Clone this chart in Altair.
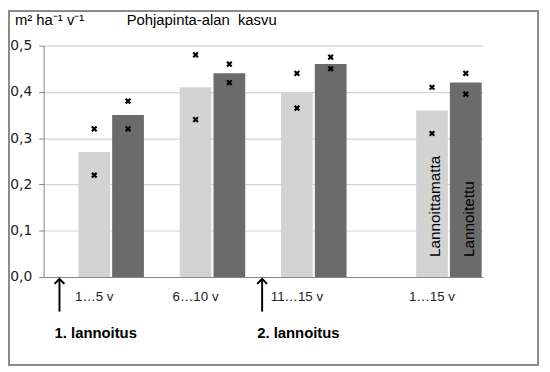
import altair as alt
import pandas as pd

# ---- data ----
groups = ["1…5 v", "6…10 v", "11…15 v", "1…15 v"]
group_pos = [2, 5, 8, 12]
series = ["Lannoittamatta", "Lannoitettu"]
colors = ["#d3d3d3", "#6b6b6b"]
unfert = [0.27, 0.41, 0.40, 0.36]
fert = [0.35, 0.44, 0.46, 0.42]
unfert_hi = [0.32, 0.48, 0.44, 0.41]
unfert_lo = [0.22, 0.34, 0.365, 0.31]
fert_hi = [0.38, 0.46, 0.475, 0.44]
fert_lo = [0.32, 0.42, 0.45, 0.395]
arrow_pos = [0.47, 6.47]
arrow_labels = ["1. lannoitus", "2. lannoitus"]
y_ticks = [0.0, 0.1, 0.2, 0.3, 0.4, 0.5]

half = 0.47
offsets = [-0.5, 0.5]
vals = [unfert, fert]
his = [unfert_hi, fert_hi]
los = [unfert_lo, fert_lo]

bar_rows, mark_rows = [], []
for si, s in enumerate(series):
    for gi, g in enumerate(groups):
        c = group_pos[gi] + offsets[si]
        bar_rows.append({"group": g, "series": s, "xc": c, "x1": c - half,
                         "x2": c + half, "value": vals[si][gi], "base": 0.0})
        mark_rows.append({"series": s, "xc": c, "value": his[si][gi]})
        mark_rows.append({"series": s, "xc": c, "value": los[si][gi]})
bars_df = pd.DataFrame(bar_rows)
marks_df = pd.DataFrame(mark_rows)
cat_df = pd.DataFrame({"label": groups, "xc": [p - 0.5 for p in group_pos]})
arrow_df = pd.DataFrame({"xa": arrow_pos, "label": arrow_labels})
vlab_df = pd.DataFrame({"label": series,
                        "xc": [group_pos[3] + o for o in offsets],
                        "value": [0.043, 0.043]})
one = pd.DataFrame({"a": [0]})

xs = alt.Scale(domain=[0, 13], nice=False, zero=False)
ys = alt.Scale(domain=[0, 0.5], nice=False)

bars = alt.Chart(bars_df).mark_rect().encode(
    x=alt.X("x1:Q", scale=xs,
            axis=alt.Axis(labels=False, ticks=False, grid=False, domain=True,
                          domainColor="#868686", title=None)),
    x2="x2:Q",
    y=alt.Y("value:Q", scale=ys,
            axis=alt.Axis(values=y_ticks, title=None, tickSize=5, grid=True,
                          tickColor="#868686", domainColor="#868686",
                          gridColor="#d4d4d4", gridWidth=1.2,
                          labelFont="DejaVu Sans",
                          labelFontSize=14, labelColor="#222222",
                          labelPadding=7,
                          labelExpr="replace(format(datum.value, '.1f'), '.', ',')")),
    y2="base:Q",
    color=alt.Color("series:N", scale=alt.Scale(domain=series, range=colors),
                    legend=None),
)

marks = alt.Chart(marks_df).mark_point(
    shape="M-1,-1L1,1M-1,1L1,-1", filled=False, stroke="black",
    strokeWidth=2.2, size=22, opacity=1
).encode(x=alt.X("xc:Q", scale=xs), y=alt.Y("value:Q", scale=ys))

cats = alt.Chart(cat_df).mark_text(
    font="Liberation Sans", fontSize=13.5, color="#222222", baseline="middle"
).encode(x=alt.X("xc:Q", scale=xs), y=alt.value(254), text="label:N")

arrow_line = alt.Chart(arrow_df).mark_rule(color="black", strokeWidth=2).encode(
    x=alt.X("xa:Q", scale=xs), y=alt.value(236), y2=alt.value(269))

arrow_head = alt.Chart(arrow_df).mark_point(
    shape="M-1,1L0,0L1,1", filled=False, stroke="black", strokeWidth=2,
    size=100, opacity=1
).encode(x=alt.X("xa:Q", scale=xs), y=alt.value(236))

arrow_text = alt.Chart(arrow_df).mark_text(
    font="Liberation Sans", fontSize=15, fontWeight="bold", color="black",
    align="left", baseline="middle", dx=-5
).encode(x=alt.X("xa:Q", scale=xs), y=alt.value(291), text="label:N")

vlabels = alt.Chart(vlab_df).mark_text(
    font="Liberation Sans", fontSize=15.5, color="black", angle=270,
    align="left", baseline="middle", dy=3
).encode(x=alt.X("xc:Q", scale=xs), y=alt.Y("value:Q", scale=ys),
         text="label:N")

title = alt.Chart(one).mark_text(
    text="Pohjapinta-alan\u00a0 kasvu", font="Liberation Sans", fontSize=15,
    color="black", align="left", baseline="middle"
).encode(x=alt.value(84), y=alt.value(-26))

units = alt.Chart(one).mark_text(
    text="m² ha⁻¹ v⁻¹", font="Liberation Sans", fontSize=15,
    color="black", align="left", baseline="middle"
).encode(x=alt.value(-29), y=alt.value(-26))

frame = alt.Chart(one).mark_rect(
    filled=False, stroke="#8a8a8a", strokeWidth=2
).encode(x=alt.value(-35), x2=alt.value(500), y=alt.value(-35),
         y2=alt.value(323))

chart = alt.layer(
    bars, marks, cats, arrow_line, arrow_head, arrow_text, vlabels,
    title, units, frame
).properties(
    width=444, height=234,
    autosize=alt.AutoSizeParams(type="none"),
    padding={"left": 36, "top": 36, "right": 60, "bottom": 90},
).configure_view(stroke=None)

chart.save("out.html", embed_options={"renderer": "svg", "actions": False})
